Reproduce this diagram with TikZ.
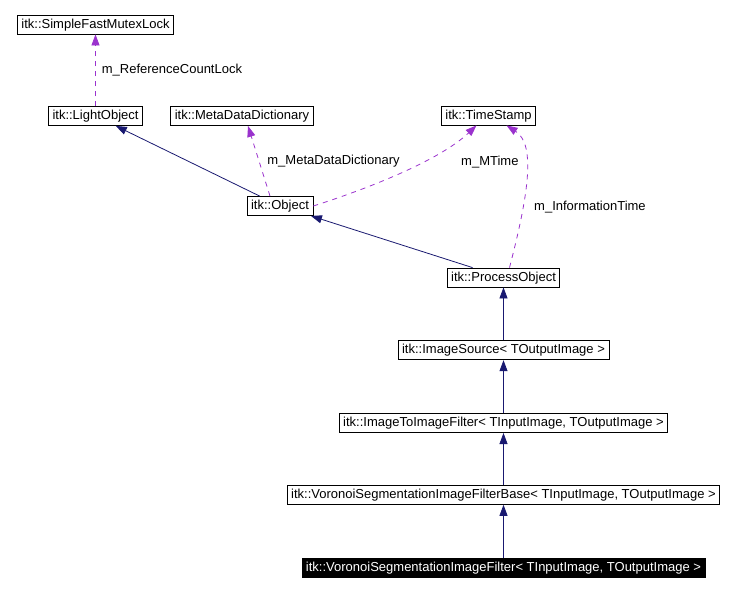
\documentclass[tikz,border=0pt]{standalone}
\usepackage{fontspec}
\setmainfont{Liberation Sans}
\usepackage{tikz}
\usetikzlibrary{arrows.meta,positioning}
\definecolor{inhblue}{RGB}{25,25,112}
\definecolor{usepurple}{RGB}{154,50,205}

\begin{document}
\begin{tikzpicture}[x=1pt, y=-1pt,
    cls/.style={rectangle, draw=black, line width=0.8pt, fill=white,
        minimum height=19pt, inner xsep=4pt, inner ysep=1pt,
        text height=9.5pt, text depth=2.5pt,
        font=\fontsize{13}{15}\selectfont},
    lbl/.style={inner sep=1pt, text=black, font=\fontsize{13}{15}\selectfont},
    inh/.style={-{Triangle[length=11pt, width=8pt]}, line width=0.8pt, inhblue},
    use/.style={-{Triangle[length=11pt, width=8pt]}, line width=0.8pt, usepurple,
        dash pattern=on 5pt off 5pt}
]
    \useasboundingbox (0,0) rectangle (736,590);

    % Base classes
    \node[cls] (lock) at (95.5,24.5) {itk::SimpleFastMutexLock};
    \node[cls] (light) at (95.5,116) {itk::LightObject};
    \node[cls] (meta) at (242,116) {itk::MetaDataDictionary};
    \node[cls] (stamp) at (488.5,115.5) {itk::TimeStamp};
    \node[cls] (object) at (280,206) {itk::Object};
    \node[cls] (process) at (503.5,277.5) {itk::ProcessObject};

    % Template chain --- one below the other
    \node[cls, below=53pt of process] (source) {itk::ImageSource< TOutputImage >};
    \node[cls, below=53pt of source] (i2i) {itk::ImageToImageFilter< TInputImage, TOutputImage >};
    \node[cls, below=52pt of i2i] (vbase) {itk::VoronoiSegmentationImageFilterBase< TInputImage, TOutputImage >};
    \node[cls, fill=black, text=white, below=53pt of vbase] (vfilt) {itk::VoronoiSegmentationImageFilter< TInputImage, TOutputImage >};

    % Member usage (dashed)
    \draw[use] (light) -- (lock) node[lbl, midway, right=5pt] {m\_ReferenceCountLock};
    \draw[use] ([xshift=-10pt]object.north) -- ([xshift=6pt]meta.south)
        node[lbl, midway, right=7pt] {m\_MetaDataDictionary};
    \draw[use] (object.east) .. controls (370,188) and (440,160) .. ([xshift=-12pt]stamp.south);
    \node[lbl, anchor=west] (mtime) at (460,162) {m\_MTime};
    \draw[use] ([xshift=6pt]process.north) .. controls (527,200) and (537,145) .. ([xshift=18pt]stamp.south);
    \node[lbl, anchor=west] (infotime) at (533,207) {m\_InformationTime};

    % Inheritance
    \draw[inh] (object) -- (light);
    \draw[inh] (process) -- (object);
    \draw[inh] (source) -- (process);
    \draw[inh] (i2i) -- (source);
    \draw[inh] (vbase) -- (i2i);
    \draw[inh] (vfilt) -- (vbase);
\end{tikzpicture}
\end{document}
